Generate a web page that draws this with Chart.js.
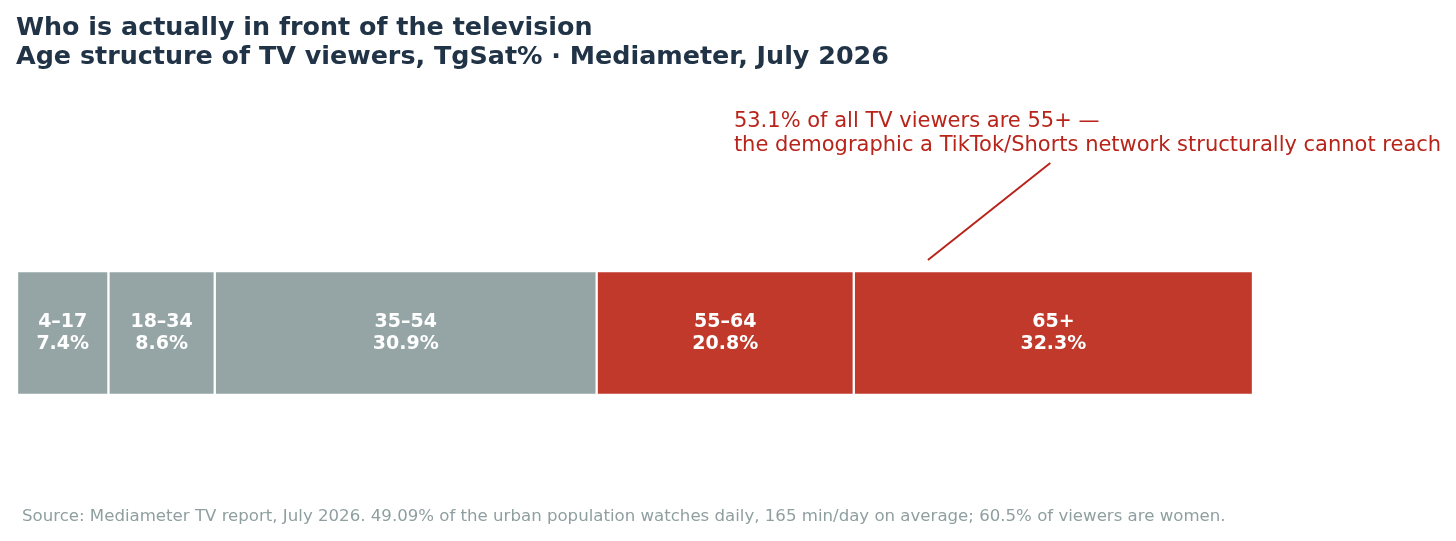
<!DOCTYPE html>
<html>
<head>
<meta charset="utf-8">
<script src="https://cdn.jsdelivr.net/npm/chart.js@4.4.1/dist/chart.umd.min.js"></script>
<style>
  html, body { margin: 0; padding: 0; background: #fff; }
  #wrap { width: 1456px; height: 541px; }
</style>
</head>
<body>
<div id="wrap"><canvas id="AgeChart"></canvas></div>
<script>
// age groups and their share of TV viewers (TgSat%)
const ageGroups = ['4–17', '18–34', '35–54', '55–64', '65+'];
const shares = [7.4, 8.6, 30.9, 20.8, 32.3];
const segColors = ['#95a5a6', '#95a5a6', '#95a5a6', '#c0392b', '#c0392b'];

const titleLines = [
  'Who is actually in front of the television',
  'Age structure of TV viewers, TgSat% · Mediameter, July 2026'
];
const noteLines = [
  '53.1% of all TV viewers are 55+ —',
  'the demographic a TikTok/Shorts network structurally cannot reach'
];
const sourceText = 'Source: Mediameter TV report, July 2026. 49.09% of the urban population watches daily, 165 min/day on average; 60.5% of viewers are women.';

const FONT = '"DejaVu Sans", sans-serif';

// one dataset per age group, stacked into a single bar
const datasets = ageGroups.map((g, i) => ({
  label: g,
  data: [shares[i]],
  backgroundColor: segColors[i],
  borderColor: '#ffffff',
  borderWidth: 1.5,
  borderSkipped: false,
  barThickness: 124
}));

const extras = {
  id: 'extras',
  afterDatasetsDraw(chart) {
    const ctx = chart.ctx;
    const x = chart.scales.x;
    ctx.save();

    // segment labels
    ctx.fillStyle = '#ffffff';
    ctx.font = 'bold 19px ' + FONT;
    ctx.textAlign = 'center';
    ctx.textBaseline = 'middle';
    chart.data.datasets.forEach((ds, i) => {
      const bar = chart.getDatasetMeta(i).data[0];
      const cx = (bar.x + bar.base) / 2;
      ctx.fillText(ageGroups[i], cx, bar.y - 11);
      ctx.fillText(shares[i].toFixed(1) + '%', cx, bar.y + 11);
    });

    // title
    ctx.fillStyle = '#213346';
    ctx.font = 'bold 25.4px ' + FONT;
    ctx.textAlign = 'left';
    ctx.fillText(titleLines[0], 16, 28);
    ctx.fillText(titleLines[1], 16, 57);

    // annotation with pointer into the 65+ segment
    const top = chart.getDatasetMeta(4).data[0].y - 62;
    ctx.fillStyle = '#b8241a';
    ctx.font = '21px ' + FONT;
    ctx.fillText(noteLines[0], x.getPixelForValue(58.0), 122);
    ctx.fillText(noteLines[1], x.getPixelForValue(58.0), 146);
    ctx.strokeStyle = '#b8241a';
    ctx.lineWidth = 2;
    ctx.beginPath();
    ctx.moveTo(x.getPixelForValue(83.6), 163);
    ctx.lineTo(x.getPixelForValue(73.7), top - 11);
    ctx.stroke();

    // source line
    ctx.fillStyle = '#8f9fa0';
    ctx.font = '16.6px ' + FONT;
    ctx.fillText(sourceText, 22, 517);

    ctx.restore();
  }
};

new Chart(document.getElementById('AgeChart'), {
  type: 'bar',
  data: {
    labels: ['TV viewers'],
    datasets: datasets
  },
  options: {
    indexAxis: 'y',
    responsive: true,
    maintainAspectRatio: false,
    animation: false,
    layout: {
      padding: { left: 17, right: 203, top: 200, bottom: 75 }
    },
    plugins: {
      legend: { display: false },
      title: { display: false },
      tooltip: { enabled: false }
    },
    scales: {
      x: { stacked: true, min: 0, max: 100, display: false },
      y: { stacked: true, display: false }
    }
  },
  plugins: [extras]
});
</script>
</body>
</html>
